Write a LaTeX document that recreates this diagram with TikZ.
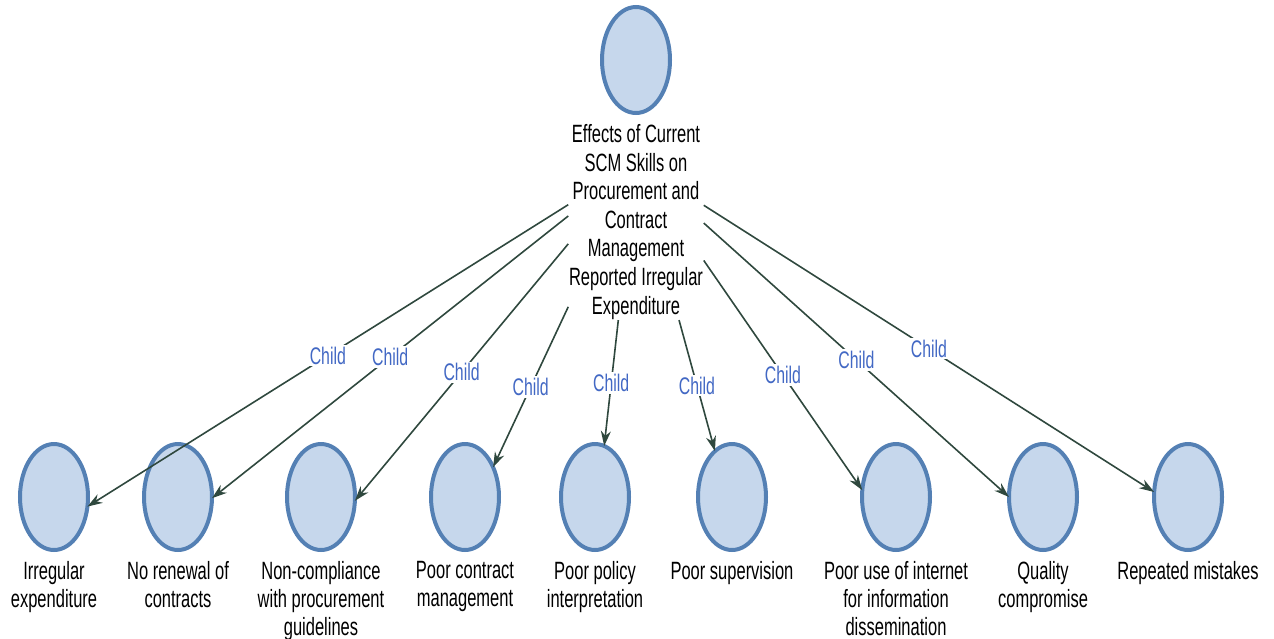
\documentclass[tikz,border=0pt]{standalone}
\usepackage{fontspec}
\setmainfont[FakeStretch=0.66]{Liberation Sans}
\usetikzlibrary{arrows.meta,shapes.geometric,fit,intersections}
\definecolor{ringblue}{RGB}{84,128,180}
\definecolor{fillblue}{RGB}{198,215,236}
\definecolor{arrowgreen}{RGB}{47,72,62}
\definecolor{tagblue}{RGB}{66,104,196}
\tikzstyle{vertex} = [ellipse, draw=ringblue, fill=fillblue, line width=2pt, minimum width=34pt, minimum height=53pt, inner sep=0pt]
\tikzstyle{caption} = [align=center, inner sep=0pt, anchor=north, font=\fontsize{12.5}{14}\selectfont]
\tikzstyle{group} = [inner sep=0pt]
\tikzstyle{edge} = [draw=arrowgreen, line width=0.8pt, -{Stealth[length=7.5pt, width=5pt]}]
\tikzstyle{tag} = [midway, fill=white, inner sep=1pt, text=tagblue, font=\fontsize{12}{13}\selectfont]

\begin{document}
\begin{tikzpicture}[x=0.5pt, y=-0.5pt]
    \useasboundingbox (0,0) rectangle (1274,638);
    % Draw the vertices.
    \node [vertex] (t) at (636,60) {};
    \node [caption, font=\fontsize{12.5}{14.3}\selectfont] (tl) at ([yshift=-4.5pt]t.south) {Effects of Current\\SCM Skills on\\Procurement and\\Contract\\Management\\Reported Irregular\\Expenditure};
    \node [group, fit=(t)(tl)] (top) {};
    \node [vertex, name path=c1] (c1) at (54,497) {};
    \node [caption] (l1) at ([yshift=-4.5pt]c1.south) {Irregular\\expenditure};
    \node [group, fit=(c1)(l1)] (g1) {};
    \node [vertex, name path=c2] (c2) at (178,497) {};
    \node [caption] (l2) at ([yshift=-4.5pt]c2.south) {No renewal of\\contracts};
    \node [group, fit=(c2)(l2)] (g2) {};
    \node [vertex, name path=c3] (c3) at (321,497) {};
    \node [caption] (l3) at ([yshift=-4.5pt]c3.south) {Non-compliance\\with procurement\\guidelines};
    \node [group, fit=(c3)(l3)] (g3) {};
    \node [vertex, name path=c4] (c4) at (465,497) {};
    \node [caption] (l4) at ([yshift=-4.5pt]c4.south) {Poor contract\\management};
    \node [group, fit=(c4)(l4)] (g4) {};
    \node [vertex, name path=c5] (c5) at (595,497) {};
    \node [caption] (l5) at ([yshift=-4.5pt]c5.south) {Poor policy\\interpretation};
    \node [group, fit=(c5)(l5)] (g5) {};
    \node [vertex, name path=c6] (c6) at (732,497) {};
    \node [caption] (l6) at ([yshift=-4.5pt]c6.south) {Poor supervision};
    \node [group, fit=(c6)(l6)] (g6) {};
    \node [vertex, name path=c7] (c7) at (896,497) {};
    \node [caption] (l7) at ([yshift=-4.5pt]c7.south) {Poor use of internet\\for information\\dissemination};
    \node [group, fit=(c7)(l7)] (g7) {};
    \node [vertex, name path=c8] (c8) at (1043,497) {};
    \node [caption] (l8) at ([yshift=-4.5pt]c8.south) {Quality\\compromise};
    \node [group, fit=(c8)(l8)] (g8) {};
    \node [vertex, name path=c9] (c9) at (1188,497) {};
    \node [caption] (l9) at ([yshift=-4.5pt]c9.south) {Repeated mistakes};
    \node [group, fit=(c9)(l9)] (g9) {};
    % Effects -> each child.
    \path [name path=r1] (top) -- (g1.center);
    \draw [edge, name intersections={of=c1 and r1, by=e1}] (top) -- (e1) node [tag] {Child};
    \path [name path=r2] (top) -- (g2.center);
    \draw [edge, name intersections={of=c2 and r2, by=e2}] (top) -- (e2) node [tag] {Child};
    \path [name path=r3] (top) -- (g3.center);
    \draw [edge, name intersections={of=c3 and r3, by=e3}] (top) -- (e3) node [tag] {Child};
    \path [name path=r4] (top) -- (g4.center);
    \draw [edge, name intersections={of=c4 and r4, by=e4}] (top) -- (e4) node [tag] {Child};
    \path [name path=r5] (top) -- (g5.center);
    \draw [edge, name intersections={of=c5 and r5, by=e5}] (top) -- (e5) node [tag] {Child};
    \path [name path=r6] (top) -- (g6.center);
    \draw [edge, name intersections={of=c6 and r6, by=e6}] (top) -- (e6) node [tag] {Child};
    \path [name path=r7] (top) -- (g7.center);
    \draw [edge, name intersections={of=c7 and r7, by=e7}] (top) -- (e7) node [tag] {Child};
    \path [name path=r8] (top) -- (g8.center);
    \draw [edge, name intersections={of=c8 and r8, by=e8}] (top) -- (e8) node [tag] {Child};
    \path [name path=r9] (top) -- (g9.center);
    \draw [edge, name intersections={of=c9 and r9, by=e9}] (top) -- (e9) node [tag] {Child};
\end{tikzpicture}
\end{document}
